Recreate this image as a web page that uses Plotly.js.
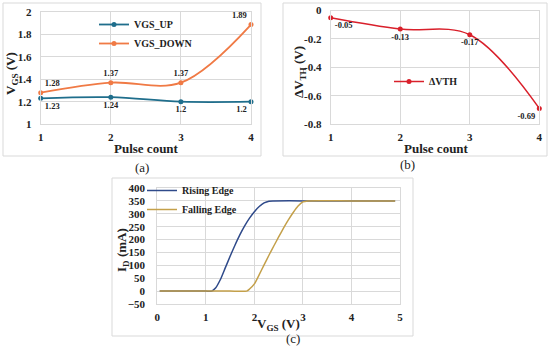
<!DOCTYPE html>
<html>
<head>
<meta charset="utf-8">
<script src="https://cdn.plot.ly/plotly-3.0.1.min.js"></script>
<style>html,body{margin:0;padding:0;background:#fff;}#chart{width:550px;height:360px;}</style>
</head>
<body>
<div id="chart"></div>
<script>
// ---- Data ----
const pulseCount = [1, 2, 3, 4];
const vgsUp = [1.23, 1.24, 1.2, 1.2];
const vgsDown = [1.28, 1.37, 1.37, 1.89];
const deltaVth = [-0.05, -0.13, -0.17, -0.69];

const risingX = [0.05, 0.5, 1.0, 1.12, 1.2, 1.3, 1.4, 1.5, 1.6, 1.7, 1.8, 1.9, 2.0, 2.1, 2.2, 2.3, 2.4, 3.0, 4.0, 4.9];
const risingY = [0, 0, 0, 0, 12, 45, 90, 135, 178, 218, 253, 283, 308, 328, 342, 349, 350, 350, 350, 350];
const fallingX = [0.05, 0.5, 1.0, 1.5, 1.84, 1.9, 2.0, 2.1, 2.2, 2.3, 2.4, 2.5, 2.6, 2.7, 2.8, 2.9, 3.0, 3.1, 4.0, 4.9];
const fallingY = [0, 0, 0, 0, 0, 8, 28, 64, 102, 139, 175, 210, 244, 276, 305, 330, 346, 350, 350, 350];

const yTickA = [1, 1.2, 1.4, 1.6, 1.8, 2];
const yTickB = [0, -0.2, -0.4, -0.6, -0.8];
const yTickBText = ['0', '-0.2', '-0.4', '-0.6', '-0.8'];
const yTickC = [-50, 0, 50, 100, 150, 200, 250, 300, 350, 400];
const xTickC = [0, 1, 2, 3, 4, 5];

// ---- Styles ----
const serif = 'Liberation Serif, Times New Roman, serif';
const grid = '#d9d9d9';
const W = 550, H = 360;
const px = v => v / W;
const py = v => 1 - v / H;

function axisBase(extra) {
  return Object.assign({
    showgrid: true, gridcolor: grid, gridwidth: 1,
    showline: true, linecolor: grid, mirror: true,
    zeroline: false, ticks: 'outside', ticklen: 3, tickcolor: 'rgba(0,0,0,0)',
    tickfont: {family: serif, size: 11, color: '#222', weight: 'bold'},
    automargin: false, fixedrange: true
  }, extra);
}
const titleFont = {family: serif, size: 13, color: '#222', weight: 'bold'};
const labelFont = {family: serif, size: 8.5, color: '#222', weight: 'bold'};
const capFont = {family: serif, size: 13, color: '#222'};

const traces = [
  {x: pulseCount, y: vgsUp, name: 'VGS_UP', type: 'scatter', mode: 'lines+markers+text',
   line: {color: '#1f6e8c', width: 1.8, shape: 'spline'}, marker: {color: '#1f6e8c', size: 5},
   text: vgsUp.map(String), textposition: ['bottom right', 'bottom center', 'bottom center', 'bottom left'],
   textfont: labelFont, xaxis: 'x', yaxis: 'y', legend: 'legend', cliponaxis: false},
  {x: pulseCount, y: vgsDown, name: 'VGS_DOWN', type: 'scatter', mode: 'lines+markers+text',
   line: {color: '#f07a45', width: 1.8, shape: 'spline'}, marker: {color: '#f07a45', size: 5},
   text: vgsDown.map(String), textposition: ['top right', 'top center', 'top center', 'top left'],
   textfont: labelFont, xaxis: 'x', yaxis: 'y', legend: 'legend', cliponaxis: false},
  {x: pulseCount, y: deltaVth, name: 'ΔVTH', type: 'scatter', mode: 'lines+markers+text',
   line: {color: '#d9202b', width: 1.5, shape: 'spline'}, marker: {color: '#d9202b', size: 5},
   text: deltaVth.map(String), textposition: ['bottom right', 'bottom center', 'bottom center', 'bottom left'],
   textfont: labelFont, xaxis: 'x2', yaxis: 'y2', legend: 'legend2', cliponaxis: false},
  {x: risingX, y: risingY, name: 'Rising Edge', type: 'scatter', mode: 'lines',
   line: {color: '#2f4a8a', width: 1.5, shape: 'spline', smoothing: 0.6},
   xaxis: 'x3', yaxis: 'y3', legend: 'legend3'},
  {x: fallingX, y: fallingY, name: 'Falling Edge', type: 'scatter', mode: 'lines',
   line: {color: '#c4a04a', width: 1.5, shape: 'spline', smoothing: 0.6},
   xaxis: 'x3', yaxis: 'y3', legend: 'legend3'}
];

const legendFont = {family: serif, size: 10, color: '#222', weight: 'bold'};

function title(text, x, y, angle) {
  return {text: text, xref: 'paper', yref: 'paper', x: px(x), y: py(y), showarrow: false,
          textangle: angle || 0, font: titleFont, xanchor: 'center', yanchor: 'middle'};
}

const layout = {
  width: W, height: H,
  margin: {l: 0, r: 0, t: 0, b: 0},
  paper_bgcolor: '#fff', plot_bgcolor: '#fff',
  showlegend: true,
  xaxis: axisBase({domain: [px(40.7), px(251)], range: [1, 4], dtick: 1, anchor: 'y'}),
  yaxis: axisBase({domain: [py(124), py(12.3)], range: [1, 2], tickvals: yTickA, anchor: 'x', ticklen: 6}),
  xaxis2: axisBase({domain: [px(330.7), px(539.3)], range: [1, 4], dtick: 1, anchor: 'y2'}),
  yaxis2: axisBase({domain: [py(124), py(10.6)], range: [-0.8, 0], tickvals: yTickB, ticktext: yTickBText, anchor: 'x2', ticklen: 6}),
  xaxis3: axisBase({domain: [px(157.3), px(400)], range: [0, 5], tickvals: xTickC, anchor: 'y3', ticklen: 3}),
  yaxis3: axisBase({domain: [py(304), py(188)], range: [-50, 400], tickvals: yTickC, anchor: 'x3', ticklen: 9}),
  legend: {x: px(94), y: py(10), xanchor: 'left', yanchor: 'top', bgcolor: 'rgba(0,0,0,0)',
    font: legendFont, itemwidth: 30, tracegroupgap: 0},
  legend2: {x: px(389), y: py(67), xanchor: 'left', yanchor: 'top', bgcolor: 'rgba(0,0,0,0)',
    font: legendFont, itemwidth: 30},
  legend3: {x: px(142), y: py(176), xanchor: 'left', yanchor: 'top', bgcolor: 'rgba(0,0,0,0)',
    font: legendFont, itemwidth: 30},
  shapes: [
    {type: 'rect', xref: 'paper', yref: 'paper', x0: px(3), x1: px(261), y0: py(156), y1: py(3), line: {color: grid, width: 1}},
    {type: 'rect', xref: 'paper', yref: 'paper', x0: px(283), x1: px(547), y0: py(156), y1: py(3), line: {color: grid, width: 1}},
    {type: 'rect', xref: 'paper', yref: 'paper', x0: px(112), x1: px(413), y0: py(336), y1: py(178), line: {color: grid, width: 1}}
  ],
  annotations: [
    title('Pulse count', 146, 148),
    title('V<sub>GS</sub> (V)', 12, 74, -90),
    title('Pulse count', 436, 148),
    title('ΔV<sub>TH</sub> (V)', 300, 72, -90),
    title('V<sub>GS</sub> (V)', 278, 324),
    title('I<sub>D</sub> (mA)', 122, 250, -90),
    {text: '(a)', xref: 'paper', yref: 'paper', x: px(133), y: py(167), showarrow: false, font: capFont},
    {text: '(b)', xref: 'paper', yref: 'paper', x: px(417), y: py(165), showarrow: false, font: capFont},
    {text: '(c)', xref: 'paper', yref: 'paper', x: px(293), y: py(348), showarrow: false, font: capFont}
  ]
};

Plotly.newPlot('chart', traces, layout, {displayModeBar: false, staticPlot: true});
</script>
</body>
</html>
